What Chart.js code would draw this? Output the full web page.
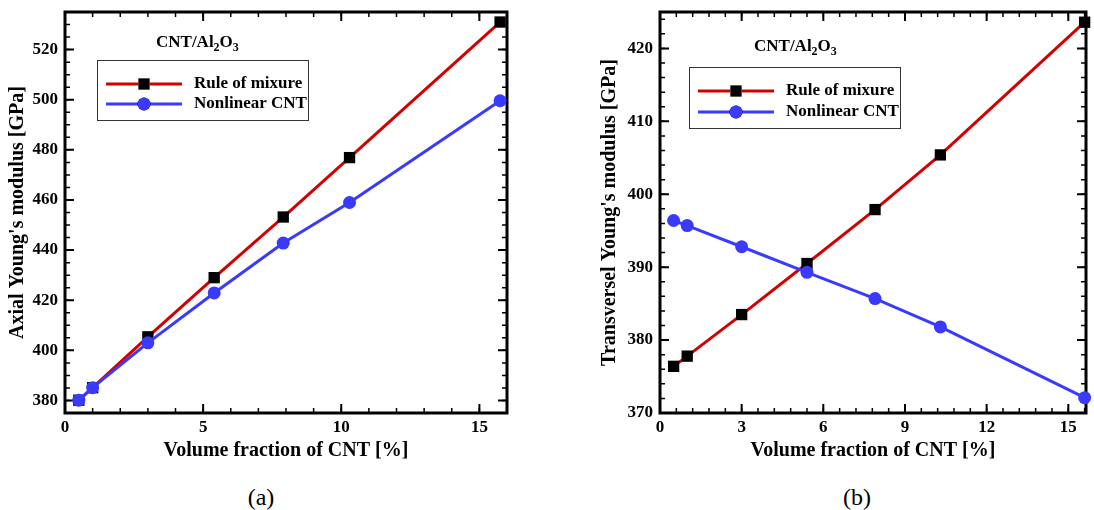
<!DOCTYPE html>
<html>
<head>
<meta charset="utf-8">
<script src="https://cdn.jsdelivr.net/npm/chart.js@4.4.1/dist/chart.umd.min.js"></script>
<style>
  body { margin:0; background:#fff; width:1094px; height:510px; overflow:hidden; position:relative; font-family:"Liberation Serif", serif; }
  #wrap_a { position:absolute; left:0; top:0; }
  #wrap_b { position:absolute; left:590px; top:0; }
  .caption { position:absolute; top:485px; width:100px; text-align:center; font-size:24px; line-height:24px; color:#000; }
</style>
</head>
<body>
<div id="wrap_a"><canvas id="chart_a" width="540" height="475"></canvas></div>
<div id="wrap_b"><canvas id="chart_b" width="504" height="475"></canvas></div>
<div class="caption" style="left:211px">(a)</div>
<div class="caption" style="left:807px">(b)</div>
<script>
// values
var fraction_a = [0.5, 1, 3, 5.4, 7.9, 10.3, 15.75];
var axial_rule = [380.1, 385.1, 405.4, 429.0, 453.2, 476.9, 531.0];
var axial_nonlinear = [380.1, 385.1, 403.0, 422.9, 442.8, 459.0, 499.6];

var fraction_b = [0.5, 1, 3, 5.4, 7.9, 10.3, 15.6];
var transverse_rule = [376.4, 377.8, 383.5, 390.5, 397.9, 405.4, 423.6];
var transverse_nonlinear = [396.4, 395.7, 392.8, 389.3, 385.7, 381.8, 372.1];

// tick labels
var ticks_a_x = [0, 5, 10, 15];
var ticks_a_y = [380, 400, 420, 440, 460, 480, 500, 520];
var ticks_b_x = [0, 3, 6, 9, 12, 15];
var ticks_b_y = [370, 380, 390, 400, 410, 420];

var series_names = ['Rule of mixure', 'Nonlinear CNT'];
var x_title = 'Volume fraction of CNT [%]';

var FONT = '"Liberation Serif", "Times New Roman", serif';
var RED = '#d40000';
var BLUE = '#3a3aff';

function make_points(xs, ys){
  var pts = [];
  for(var i = 0; i < xs.length; ++i)
    pts.push({x: xs[i], y: ys[i]});
  return pts;
}

// frame around the plot with inward ticks on all four sides
var frame_plugin = {
  id: 'frame',
  beforeDatasetsDraw: function(chart, args, opts){
    var ctx = chart.ctx, a = chart.chartArea;
    var xs = chart.scales.x, ys = chart.scales.y;
    ctx.save();
    ctx.strokeStyle = '#000';
    ctx.lineCap = 'butt';

    function marks(scale, step, len, width, horizontal){
      ctx.lineWidth = width;
      ctx.beginPath();
      for(var k = Math.ceil(scale.min / step - 1e-9); k * step <= scale.max + 1e-9; ++k){
        var p = scale.getPixelForValue(k * step);
        if(horizontal){
          ctx.moveTo(p, a.bottom); ctx.lineTo(p, a.bottom - len);
          ctx.moveTo(p, a.top); ctx.lineTo(p, a.top + len);
        } else {
          ctx.moveTo(a.left, p); ctx.lineTo(a.left + len, p);
          ctx.moveTo(a.right, p); ctx.lineTo(a.right - len, p);
        }
      }
      ctx.stroke();
    }
    marks(xs, opts.xMinor, 5, 1.5, true);
    marks(xs, opts.xMajor, 9, 2, true);
    marks(ys, opts.yMinor, 5, 1.5, false);
    marks(ys, opts.yMajor, 9, 2, false);

    ctx.lineWidth = 3;
    ctx.strokeRect(a.left, a.top, a.right - a.left, a.bottom - a.top);
    ctx.restore();
  }
};

// legend box and material label inside the plot
var inset_plugin = {
  id: 'inset',
  afterDatasetsDraw: function(chart, args, opts){
    var ctx = chart.ctx, a = chart.chartArea;
    var x0 = a.left, y0 = a.top;
    ctx.save();

    // CNT/Al2O3 with subscripts
    ctx.fillStyle = '#000';
    ctx.textBaseline = 'middle';
    ctx.textAlign = 'left';
    var tx = x0 + opts.title[0], ty = y0 + opts.title[1];
    var parts = [['CNT/Al', false], ['2', true], ['O', false], ['3', true]];
    parts.forEach(function(p){
      ctx.font = 'bold ' + (p[1] ? 12 : 17) + 'px ' + FONT;
      ctx.fillText(p[0], tx, ty + (p[1] ? 5 : 0));
      tx += ctx.measureText(p[0]).width;
    });

    // box
    var b = opts.box;
    ctx.lineWidth = 1;
    ctx.strokeStyle = '#333';
    ctx.fillStyle = '#fff';
    ctx.fillRect(x0 + b[0], y0 + b[1], b[2], b[3]);
    ctx.strokeRect(x0 + b[0] + 0.5, y0 + b[1] + 0.5, b[2], b[3]);

    chart.data.datasets.forEach(function(ds, i){
      var ry = y0 + opts.rows[i];
      ctx.strokeStyle = ds.borderColor;
      ctx.lineWidth = 3;
      ctx.beginPath();
      ctx.moveTo(x0 + opts.line[0], ry);
      ctx.lineTo(x0 + opts.line[1], ry);
      ctx.stroke();
      Chart.helpers.drawPoint(ctx, {
        pointStyle: ds.pointStyle, radius: ds.pointRadius, rotation: 0, borderWidth: 0
      }, x0 + opts.mark, ry);
      ctx.fillStyle = ds.pointBackgroundColor;
      ctx.fill();
      ctx.fillStyle = '#000';
      ctx.textAlign = 'left';
      ctx.font = 'bold 17px ' + FONT;
      ctx.fillText(ds.label, x0 + opts.text, ry);
    });
    ctx.restore();
  }
};

function build_datasets(xs, rule, nonlinear){
  return [{
    label: series_names[0],
    data: make_points(xs, rule),
    borderColor: RED,
    borderWidth: 3,
    pointStyle: 'rect',
    pointRadius: 8,
    pointBackgroundColor: '#000',
    pointBorderColor: '#000',
    pointBorderWidth: 0,
    fill: false,
    clip: false,
    order: 1
  },{
    label: series_names[1],
    data: make_points(xs, nonlinear),
    borderColor: BLUE,
    borderWidth: 3,
    pointStyle: 'circle',
    pointRadius: 6.5,
    pointBackgroundColor: BLUE,
    pointBorderColor: BLUE,
    pointBorderWidth: 0,
    fill: false,
    clip: false,
    order: 0
  }];
}

function axis(min, max, tick_list, title, horizontal, size, title_pad){
  return {
    type: 'linear',
    position: horizontal ? 'bottom' : 'left',
    min: min,
    max: max,
    afterBuildTicks: function(s){
      s.ticks = tick_list.map(function(v){ return {value: v}; });
    },
    afterFit: function(s){
      // fixed axis box, no extra room for edge labels
      if(horizontal) s.height = size; else s.width = size;
      s.paddingLeft = 0; s.paddingRight = 0;
      s.paddingTop = 0; s.paddingBottom = 0;
    },
    grid: {display: false, drawTicks: false},
    border: {display: false},
    ticks: {
      color: '#000',
      font: {family: FONT, size: 17, weight: 'bold'},
      padding: horizontal ? 4 : 7,
      maxRotation: 0,
      autoSkip: false
    },
    title: {
      display: true,
      text: title,
      color: '#000',
      font: {family: FONT, size: 20, weight: 'bold'},
      padding: horizontal ? {top: 0, bottom: 12} : {top: title_pad, bottom: 0}
    }
  };
}

function draw_chart(id, datasets, xaxis, yaxis, pad, frame, inset, right_edge){
  var ctx = document.getElementById(id);
  var chart = new Chart(ctx, {
    type: 'line',
    data: {datasets: datasets},
    options: {
      responsive: false,
      animation: false,
      devicePixelRatio: 1,
      layout: {padding: pad},
      scales: {x: xaxis, y: yaxis},
      plugins: {
        legend: {display: false},
        tooltip: {enabled: false},
        frame: frame,
        inset: inset
      }
    },
    plugins: [frame_plugin, inset_plugin]
  });
  // widen the canvas if the plot area stops short of where it should end
  var diff = right_edge - chart.chartArea.right;
  if(Math.abs(diff) > 0.5)
    chart.resize(chart.width + diff, chart.height);
  return chart;
}

draw_chart('chart_a',
  build_datasets(fraction_a, axial_rule, axial_nonlinear),
  axis(0, 16, ticks_a_x, x_title, true, 62, 0),
  axis(375, 535, ticks_a_y, "Axial Young's modulus [GPa]", false, 65, 6),
  {top: 12, right: 33, left: 0, bottom: 0},
  {xMajor: 5, xMinor: 1, yMajor: 20, yMinor: 5},
  {title: [91, 31], box: [32, 48, 211, 60], rows: [72, 92], line: [41, 117], mark: 79, text: 129},
  507);

draw_chart('chart_b',
  build_datasets(fraction_b, transverse_rule, transverse_nonlinear),
  axis(0, 15.65, ticks_b_x, x_title, true, 62, 0),
  axis(370, 425, ticks_b_y, "Transversel Young's modulus [GPa]", false, 70, 8),
  {top: 12, right: 0, left: 0, bottom: 0},
  {xMajor: 3, xMinor: 0.6, yMajor: 10, yMinor: 2},
  {title: [94, 35], box: [29, 55, 211, 61], rows: [79, 100], line: [38, 114], mark: 76, text: 126},
  504);
</script>
</body>
</html>
